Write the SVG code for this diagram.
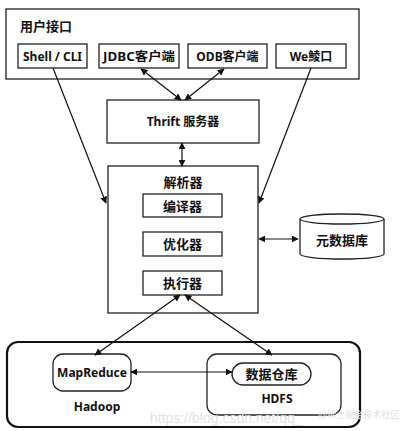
<svg xmlns="http://www.w3.org/2000/svg" width="402" height="431" viewBox="0 0 402 431">
<defs>
<marker id="ah" viewBox="0 0 10 10" refX="9" refY="5" markerWidth="7" markerHeight="7" orient="auto-start-reverse" markerUnits="userSpaceOnUse">
<path d="M0,0 L10,5 L0,10 z" fill="#111"/>
</marker>
<style>
.box{fill:#fff;stroke:#222;stroke-width:1.3}
.t{font-family:"Noto Sans","Noto Sans CJK SC",sans-serif;font-size:12px;font-weight:bold;fill:#111;text-anchor:middle}
.cj{font-size:13px}
.c{stroke:#111;stroke-width:1.2;fill:none;marker-end:url(#ah)}
.d{stroke:#111;stroke-width:1.2;fill:none;marker-end:url(#ah);marker-start:url(#ah)}
.wm{font-family:"Liberation Sans","Noto Sans CJK SC",sans-serif;fill:#e2e2e2}
</style>
</defs>
<rect width="402" height="431" fill="#fff"/>
<g id="user-interface">
<rect class="box" x="6" y="9" width="353" height="70"/>
<text class="t cj" x="20" y="31" style="text-anchor:start">用户接口</text>
</g>
<g id="shell-cli"><rect class="box" x="18" y="44" width="69" height="24"/><text class="t" x="52.5" y="60.5">Shell / CLI</text></g>
<g id="jdbc"><rect class="box" x="99" y="44" width="80" height="24"/><text class="t" x="139" y="60.5" textLength="72" lengthAdjust="spacingAndGlyphs">JDBC客户端</text></g>
<g id="odbc"><rect class="box" x="188" y="44" width="79" height="24"/><text class="t" x="227.5" y="60.5">ODB客户端</text></g>
<g id="web"><rect class="box" x="276" y="44" width="70" height="24"/><text class="t" x="311" y="60.5">We鯪口</text></g>
<g id="thrift"><rect class="box" x="107" y="100" width="152" height="43"/><text class="t" x="183" y="126">Thrift  服务器</text></g>
<g id="parser">
<rect class="box" x="108" y="166" width="150" height="147"/>
<text class="t cj" x="183" y="187">解析器</text>
</g>
<g id="compiler"><rect class="box" x="143" y="194" width="79" height="23"/><text class="t cj" x="182.5" y="210.5">编译器</text></g>
<g id="optimizer"><rect class="box" x="143" y="232" width="79" height="24"/><text class="t cj" x="182.5" y="249">优化器</text></g>
<g id="executor"><rect class="box" x="143" y="271" width="79" height="24"/><text class="t cj" x="182.5" y="288">执行器</text></g>
<g id="metastore">
<path class="box" d="M300,219 L300,254 A42,5 0 0 0 384,254 L384,219"/>
<ellipse class="box" cx="342" cy="219" rx="42" ry="5"/>
<text class="t cj" x="342" y="244.5">元数据库</text>
</g>
<g id="hadoop">
<rect x="7" y="342" width="353" height="85" rx="11" fill="#fff" stroke="#111" stroke-width="2.2"/>
<text class="t" x="97" y="411">Hadoop</text>
</g>
<g id="mapreduce"><rect class="box" x="53" y="354" width="78" height="37" rx="10"/><text class="t" x="92" y="376.5">MapReduce</text></g>
<g id="hdfs">
<rect class="box" x="207" y="354" width="134" height="61" rx="10"/>
<text class="t" x="277" y="403">HDFS</text>
</g>
<g id="warehouse"><rect class="box" x="232" y="363" width="79" height="22" rx="11"/><text class="t cj" x="271.5" y="379">数据仓库</text></g>
<g id="connectors">
<line class="c" x1="53" y1="68" x2="106" y2="203"/>
<line class="c" x1="311" y1="68" x2="259" y2="203"/>
<line class="d" x1="141" y1="69" x2="181" y2="100"/>
<line class="d" x1="224" y1="69" x2="185" y2="100"/>
<line class="d" x1="182" y1="143" x2="182" y2="166"/>
<line class="d" x1="259" y1="239" x2="298" y2="239"/>
<line class="d" x1="180" y1="295" x2="95" y2="355"/>
<line class="d" x1="185" y1="295" x2="272" y2="355"/>
<line class="d" x1="131" y1="372" x2="232" y2="372"/>
</g>
<g id="watermark">
<text class="wm" x="150" y="423" font-size="14">https://blog.csdn.net/qq_</text>
<text class="wm" x="318" y="418" font-size="9" fill="#d0d0d0">@稀土掘金技术社区</text>
</g>
</svg>
